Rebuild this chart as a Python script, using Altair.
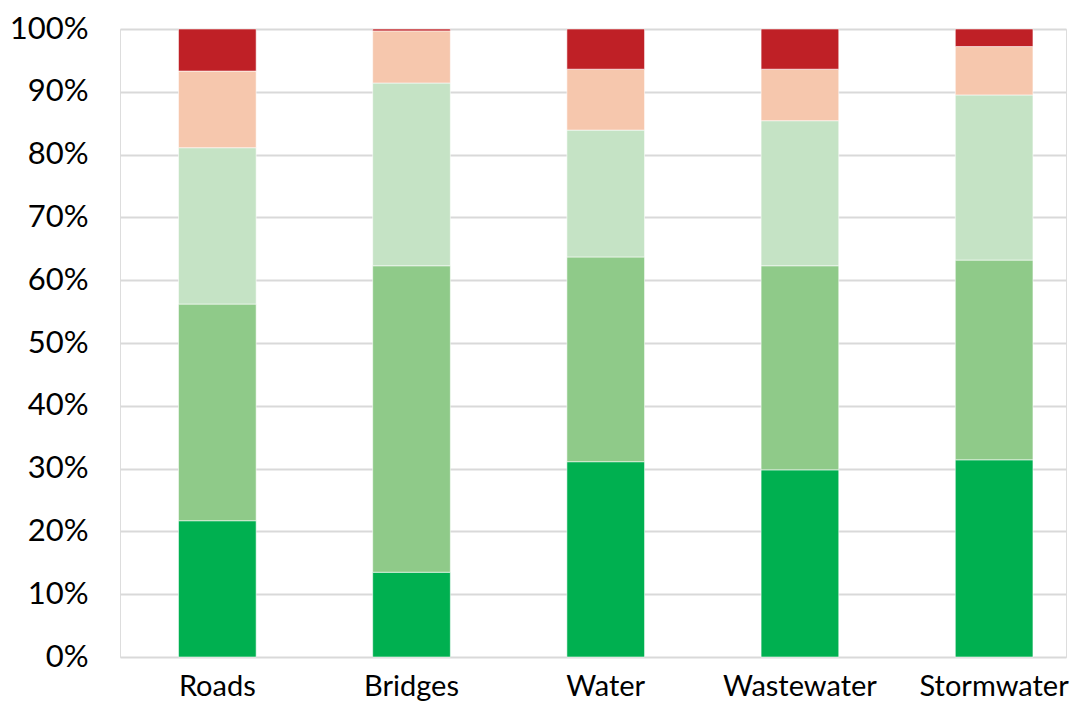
import altair as alt
import pandas as pd

categories = ["Roads", "Bridges", "Water", "Wastewater", "Stormwater"]
series = ["Very Good", "Good", "Fair", "Poor", "Very Poor"]
colors = ["#00B050", "#8FCA89", "#C5E3C5", "#F6C7AD", "#BF2026"]

very_good = [21.7, 13.5, 31.1, 29.8, 31.4]
good = [34.5, 48.8, 32.6, 32.5, 31.8]
fair = [24.9, 29.1, 20.2, 23.1, 26.3]
poor = [12.2, 8.3, 9.7, 8.2, 7.7]
very_poor = [6.7, 0.3, 6.4, 6.4, 2.8]

values = [very_good, good, fair, poor, very_poor]
rows = []
for si, (s, vals) in enumerate(zip(series, values)):
    for c, v in zip(categories, vals):
        rows.append({"Asset": c, "Condition": s, "Share": v / 100.0, "order": si})
df = pd.DataFrame(rows)

FONT = "Lato"

chart = (
    alt.Chart(df)
    .mark_bar(stroke="white", strokeWidth=0.8, strokeOpacity=0.7)
    .encode(
        x=alt.X(
            "Asset:N",
            sort=categories,
            title=None,
            scale=alt.Scale(paddingInner=0.6, paddingOuter=0.2356, align=0.639),
            axis=alt.Axis(
                labelAngle=0,
                labelFont=FONT,
                labelFontSize=29,
                labelColor="#000000",
                labelPadding=15,
                ticks=False,
                domain=False,
                grid=False,
            ),
        ),
        y=alt.Y(
            "Share:Q",
            stack="zero",
            title=None,
            scale=alt.Scale(domain=[0, 1], nice=False),
            axis=alt.Axis(
                format=".0%",
                values=[i / 10 for i in range(11)],
                labelFont=FONT,
                labelFontSize=31,
                labelColor="#000000",
                labelPadding=32,
                ticks=False,
                domain=False,
                gridColor="#D9D9D9",
                gridWidth=2,
            ),
        ),
        color=alt.Color(
            "Condition:N",
            sort=series,
            scale=alt.Scale(domain=series, range=colors),
            legend=None,
        ),
        order=alt.Order("order:Q", sort="ascending"),
    )
    .properties(
        width=946,
        height=628,
        autosize=alt.AutoSizeParams(type="none"),
        padding={"left": 112, "top": 21, "right": 4, "bottom": 48},
    )
    .configure_view(stroke=None)
    .configure(background="white")
)

chart.save("out.html", embed_options={"renderer": "svg", "actions": False})
